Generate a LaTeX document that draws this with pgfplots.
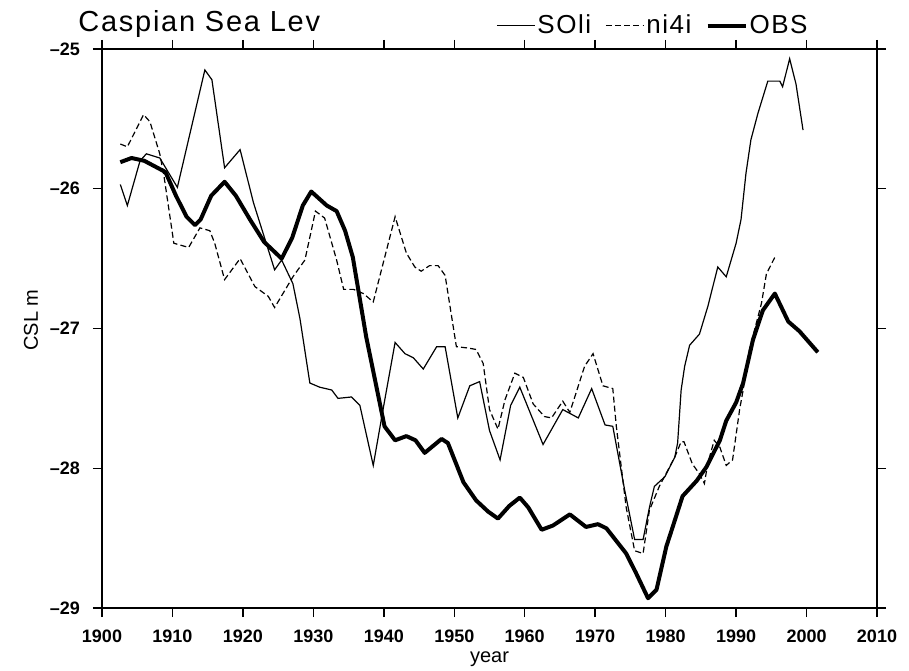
\documentclass[border=0pt]{standalone}
\usepackage{fontspec}
\setmainfont{Liberation Sans}
\newfontfamily\titlefont[LetterSpace=6]{Liberation Sans}
\usepackage{pgfplots}
\pgfplotsset{compat=1.18}

\begin{document}
\begin{tikzpicture}
\useasboundingbox (-51pt,-31pt) rectangle (403.5pt,304pt);
\begin{axis}[
  at={(0pt,0pt)}, anchor=south west,
  scale only axis,
  width=387.5pt, height=279.5pt,
  xmin=1900, xmax=2010, ymin=-29, ymax=-25,
  xtick={1900,1910,...,2010},
  ytick={-29,-28,-27,-26,-25},
  yticklabels={--29,--28,--27,--26,--25},
  xticklabels={1900,1910,1920,1930,1940,1950,1960,1970,1980,1990,2000,2010},
  xtick pos=both, ytick pos=both,
  xticklabel pos=lower, yticklabel pos=left,
  tick align=outside,
  major tick length=4.5pt,
  tick style={black, line width=0.7pt},
  axis line style={line width=0.7pt},
  ticklabel style={font=\fontsize{9}{10}\selectfont\bfseries},
  xticklabel style={yshift=-3pt},
  yticklabel style={xshift=-3pt},
  xlabel={year},
  ylabel={CSL m},
  label style={font=\fontsize{9.5}{10}\selectfont\bfseries},
  every axis x label/.style={at={(axis description cs:0.5,-0.091)}, anchor=center},
  every axis y label/.style={at={(axis description cs:-0.0916,0.515)}, anchor=center, rotate=90},
  legend columns=3,
  legend style={at={(axis description cs:0.9135,1.0)}, anchor=south east,
    yshift=5pt, draw=none, fill=none, inner sep=0pt,
    font=\titlefont\fontsize{13}{15}\selectfont,
    nodes={inner sep=1pt},
    /tikz/every even column/.append style={column sep=6pt}},
  legend image code/.code={\draw[#1] (0pt,0pt) -- (19pt,0pt);},
]
% SOli reconstruction
\addplot[black, line width=0.6pt] coordinates {
(1902.6,-25.97) (1903.6,-26.12) (1905.4,-25.80) (1906.3,-25.75) (1908.2,-25.78)
(1910.7,-25.99) (1912.6,-25.58) (1914.6,-25.15) (1915.6,-25.22) (1917.4,-25.85)
(1919.6,-25.72) (1921.5,-26.10) (1924.5,-26.58) (1925.5,-26.51) (1927.1,-26.68)
(1928.1,-26.93) (1929.5,-27.39) (1930.9,-27.42) (1932.6,-27.44) (1933.5,-27.50)
(1935.4,-27.49) (1936.6,-27.55) (1938.5,-27.98) (1940.1,-27.52) (1941.6,-27.10)
(1943.0,-27.18) (1944.2,-27.21) (1945.6,-27.29) (1947.5,-27.13) (1948.7,-27.13)
(1950.5,-27.64) (1952.2,-27.41) (1953.6,-27.38) (1955.0,-27.73) (1956.5,-27.94)
(1958.0,-27.55) (1959.3,-27.42) (1962.6,-27.83) (1965.4,-27.58) (1967.6,-27.64)
(1969.5,-27.43) (1971.4,-27.69) (1972.5,-27.70) (1974.2,-28.16) (1975.6,-28.51)
(1976.8,-28.51) (1977.7,-28.28) (1978.4,-28.13) (1979.9,-28.06) (1981.3,-27.92)
(1981.7,-27.82) (1982.2,-27.44) (1982.7,-27.27) (1983.4,-27.12) (1984.8,-27.04)
(1986.0,-26.84) (1987.4,-26.56) (1988.6,-26.63) (1990.0,-26.39) (1990.7,-26.22)
(1991.4,-25.89) (1992.1,-25.65) (1993.1,-25.46) (1994.5,-25.23) (1996.2,-25.23)
(1996.6,-25.27) (1997.6,-25.07) (1998.5,-25.25) (1999.5,-25.58)
};
\addlegendentry{SOli}
% ni4i reconstruction
\addplot[black, line width=0.6pt, dash pattern=on 3pt off 1.6pt] coordinates {
(1902.6,-25.68) (1903.6,-25.70) (1905.9,-25.47) (1906.8,-25.52) (1908.2,-25.75)
(1908.8,-25.91) (1910.2,-26.39) (1912.3,-26.42) (1913.9,-26.28) (1915.3,-26.30)
(1916.0,-26.39) (1917.4,-26.65) (1919.6,-26.50) (1921.7,-26.70) (1923.6,-26.77)
(1924.5,-26.85) (1927.1,-26.63) (1928.8,-26.51) (1930.3,-26.16) (1931.6,-26.21)
(1933.3,-26.51) (1934.3,-26.72) (1935.7,-26.72) (1937.1,-26.75) (1938.5,-26.81)
(1941.6,-26.20) (1943.2,-26.46) (1944.4,-26.56) (1945.3,-26.59) (1946.5,-26.55)
(1947.7,-26.55) (1948.7,-26.62) (1950.3,-27.13) (1952.0,-27.14) (1953.1,-27.15)
(1954.1,-27.25) (1955.0,-27.58) (1956.2,-27.72) (1957.2,-27.51) (1958.6,-27.32)
(1959.8,-27.35) (1961.2,-27.54) (1962.8,-27.63) (1963.8,-27.64) (1965.4,-27.52)
(1966.4,-27.60) (1968.5,-27.27) (1969.7,-27.18) (1971.1,-27.41) (1972.5,-27.43)
(1973.0,-27.70) (1974.4,-28.28) (1975.6,-28.59) (1976.8,-28.61) (1977.7,-28.30)
(1979.1,-28.13) (1981.3,-27.92) (1982.2,-27.81) (1982.6,-27.81) (1983.8,-27.97)
(1984.8,-28.04) (1985.5,-28.11) (1986.0,-27.96) (1986.9,-27.80) (1987.7,-27.85)
(1988.6,-27.98) (1989.5,-27.94) (1990.5,-27.58) (1991.0,-27.44) (1991.9,-27.15)
(1993.6,-26.82) (1994.3,-26.61) (1995.5,-26.49)
};
\addlegendentry{ni4i}
% observed level
\addplot[black, line width=2pt, line join=round] coordinates {
(1902.6,-25.81) (1904.2,-25.78) (1906.0,-25.80) (1909.0,-25.88) (1910.5,-26.05)
(1912.0,-26.20) (1913.2,-26.26) (1914.0,-26.22) (1915.5,-26.05) (1917.4,-25.95)
(1919.0,-26.05) (1921.0,-26.22) (1923.0,-26.38) (1925.5,-26.50) (1927.0,-26.35)
(1928.5,-26.12) (1929.7,-26.02) (1930.8,-26.07) (1931.9,-26.12) (1933.3,-26.16)
(1934.5,-26.30) (1935.6,-26.49) (1937.5,-27.06) (1940.1,-27.70) (1941.6,-27.80)
(1943.2,-27.77) (1944.5,-27.80) (1945.8,-27.89) (1947.0,-27.84) (1948.2,-27.79)
(1949.1,-27.82) (1951.3,-28.10) (1953.1,-28.23) (1954.8,-28.31) (1956.2,-28.36)
(1957.8,-28.27) (1959.3,-28.21) (1960.5,-28.28) (1962.4,-28.44) (1964.0,-28.41)
(1966.4,-28.33) (1968.7,-28.42) (1970.4,-28.40) (1971.6,-28.43) (1974.4,-28.61)
(1975.8,-28.75) (1977.5,-28.93) (1978.7,-28.87) (1980.1,-28.56) (1981.0,-28.42)
(1982.4,-28.20) (1984.4,-28.09) (1985.8,-27.99) (1987.7,-27.80) (1988.6,-27.66)
(1990.0,-27.53) (1991.0,-27.39) (1992.4,-27.08) (1993.8,-26.87) (1995.5,-26.75)
(1997.4,-26.95) (1999.0,-27.02) (2001.6,-27.17)
};
\addlegendentry{OBS}
\end{axis}
\node[anchor=base west, inner sep=0pt, font=\titlefont\fontsize{14.5}{16}\selectfont]
  at (-12pt,288pt) {Caspian Sea Lev};
\end{tikzpicture}
\end{document}
